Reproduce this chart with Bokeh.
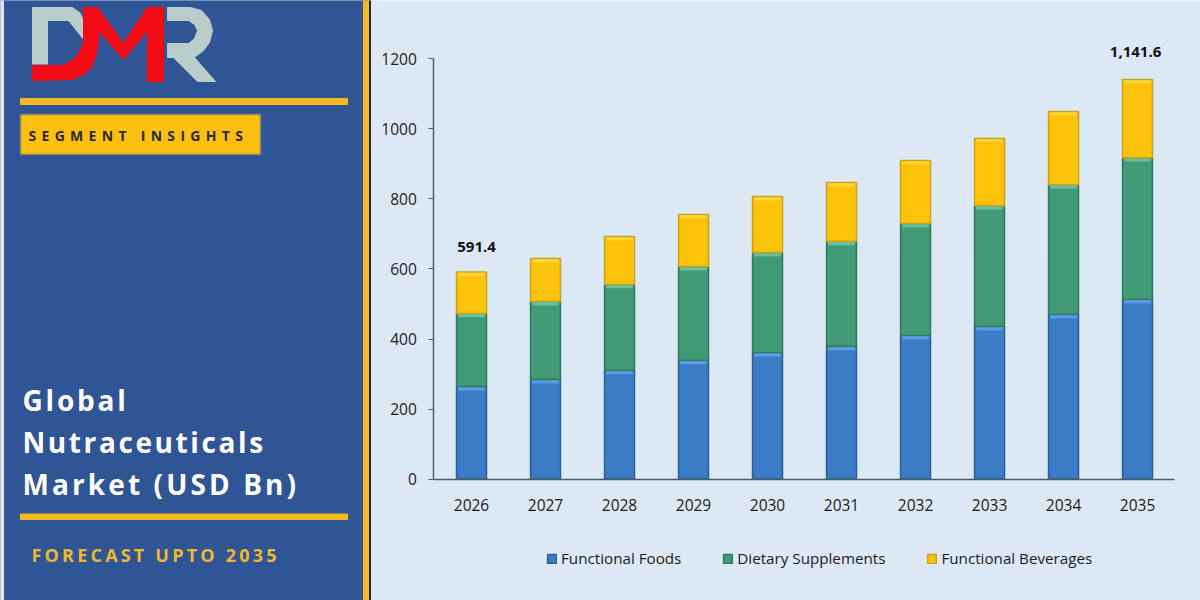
from bokeh.core.properties import value
from bokeh.document import Document
from bokeh.embed import file_html
from bokeh.models import (ColumnDataSource, CustomJS, FixedTicker, Legend, LegendItem,
                          LinearAxis, Range1d)
from bokeh.events import DocumentReady
from bokeh.plotting import figure
from bokeh.resources import INLINE

years = [2026, 2027, 2028, 2029, 2030, 2031, 2032, 2033, 2034, 2035]
functional_foods = [264, 284, 310, 339, 361, 379, 410, 436, 470, 513]
dietary_supplements = [209, 223, 246, 268, 286, 300, 320, 345, 371, 405]
functional_beverages = [118.4, 123, 137, 149, 160, 168, 180, 192, 209, 223.6]
series_names = ["Functional Foods", "Dietary Supplements", "Functional Beverages"]
series_colors = ["#3a7dc6", "#409a76", "#fdc20a"]
series_edges = ["#2c5f90", "#2f7a5c", "#c9a21a"]
series_bevels = ["#5a9fe0", "#6cc09c", "#ffd63a"]
y_ticks = [0, 200, 400, 600, 800, 1000, 1200]
label_years = [2026, 2035]
label_totals = [591.4, 1141.6]
label_texts = ["591.4", "1,141.6"]

PANEL = "#2f5597"
GOLD = "#f4b91f"
PAGE = "#dde8f5"
GREY = "#b9cdca"
RED = "#f40a14"
FONT = "Open Sans"
AXIS = "#4d5b6b"

p = figure(width=1200, height=600, x_range=Range1d(2019.635, 2035.851),
           y_range=Range1d(-347.14, 1367.14), x_axis_location=None, y_axis_location=None,
           output_backend="svg", toolbar_location=None, min_border=0,
           background_fill_color=PAGE, border_fill_color=PAGE, outline_line_color=None)
p.grid.visible = False
p.extra_x_ranges = {"px": Range1d(0, 1200)}
p.extra_y_ranges = {"py": Range1d(600, 0)}
PX = dict(x_range_name="px", y_range_name="py")

# left panel
p.quad(left=[0], right=[369], top=[0], bottom=[600], color=PANEL, **PX)
p.quad(left=[0], right=[3], top=[0], bottom=[600], color="#dfe5ee", **PX)
p.quad(left=[363], right=[369], top=[0], bottom=[600], color=GOLD, **PX)
p.quad(left=[369], right=[370], top=[0], bottom=[600], color="#1f2a3a", **PX)
p.quad(left=[20], right=[347], top=[98], bottom=[104], color=GOLD, **PX)
p.quad(left=[20], right=[347], top=[513.5], bottom=[519], color=GOLD, **PX)
p.quad(left=[20], right=[260], top=[114], bottom=[154], fill_color="#fdbf12",
       line_color="#8a8560", line_width=1.5, **PX)

# logo
p.patch([32, 72, 80, 84, 84, 68, 47, 47, 32], [7, 7, 13, 24, 40, 20, 20, 63.5, 63.5], color=GREY, **PX)
p.patch([167, 190, 201, 209, 212, 209, 203, 194, 215, 197, 173, 167, 167, 188, 194, 197, 194, 188, 167],
        [7, 7, 10, 19, 30, 42, 50, 57, 81, 81, 57, 57, 43, 43, 38, 30, 24, 20, 20], color=GREY, **PX)
p.patch([83, 97, 123, 147, 163, 163, 147, 147, 123, 98, 98, 96, 92, 85, 72, 32, 32, 62, 72, 79, 83, 83],
        [7, 7, 43, 7, 7, 81, 81, 30, 59, 30, 40, 54, 65, 73, 79, 80, 65, 65, 60, 52, 42, 7],
        color=RED, **PX)


def panel_text(x, y, txt, size, color):
    p.text(x=[x], y=[y], text=[txt], text_font=value(FONT), text_font_style="bold",
           text_font_size=value(size), text_color=color, text_baseline="middle", **PX)


panel_text(28, 135, "SEGMENT INSIGHTS", "14px", "#2b2a20")
panel_text(22, 399, "Global", "28px", "#ffffff")
panel_text(22, 441, "Nutraceuticals", "28px", "#ffffff")
panel_text(22, 483, "Market (USD Bn)", "28px", "#ffffff")
panel_text(31, 554, "FORECAST UPTO 2035", "18px", "#efba2a")

# chart
source = ColumnDataSource(dict(year=years, foods=functional_foods, supp=dietary_supplements,
                               bev=functional_beverages))
renderers = p.vbar_stack(["foods", "supp", "bev"], x="year", width=0.405, source=source,
                         fill_color=series_colors, line_color=series_edges, line_width=1.5)

cum = [0.0] * len(years)
for vals, bevel in zip([functional_foods, dietary_supplements, functional_beverages], series_bevels):
    cum = [c + v for c, v in zip(cum, vals)]
    p.vbar(x=years, top=[c - 2 for c in cum], bottom=[c - 11 for c in cum], width=0.36,
           fill_color=bevel, line_color=None)

xaxis = LinearAxis(fixed_location=0, bounds=(2025.49, 2035.5), ticker=FixedTicker(ticks=years),
                   major_tick_line_color=None, minor_tick_line_color=None, axis_line_color=AXIS,
                   axis_line_width=1.5, major_label_text_font=FONT,
                   major_label_text_font_size="15.5px", major_label_text_color="#1c1c1c",
                   major_label_standoff=14)
yaxis = LinearAxis(fixed_location=2025.49, bounds=(0, 1200),
                   ticker=FixedTicker(ticks=y_ticks, num_minor_ticks=5),
                   axis_line_color=AXIS, axis_line_width=1.5, major_tick_line_color=AXIS,
                   minor_tick_line_color=AXIS, major_tick_in=0, major_tick_out=5, minor_tick_in=0,
                   minor_tick_out=3, major_label_text_font=FONT,
                   major_label_text_font_size="15.5px", major_label_text_color="#1c1c1c",
                   major_label_standoff=12)
p.add_layout(xaxis, "below")
p.add_layout(yaxis, "left")

for yr, total, txt, dx, dy in zip(label_years, label_totals, label_texts, (5, -2), (-20, -22)):
    p.text(x=[yr], y=[total], text=[txt], text_font=value(FONT), text_font_style="bold",
           text_font_size=value("15px"), text_color="#111111", text_align="center",
           x_offset=dx, y_offset=dy)

legend = Legend(items=[LegendItem(label=n, renderers=[r]) for n, r in zip(series_names, renderers)],
                orientation="horizontal", location=(546, 32), background_fill_alpha=0,
                border_line_color=None, label_text_font=FONT, label_text_font_size="15.2px",
                label_text_color="#1c1c1c", glyph_width=11, glyph_height=11, spacing=41,
                label_standoff=4, margin=0, padding=0)
p.add_layout(legend, "center")

# the reference's panel lettering is tracked out
doc = Document()
doc.add_root(p)
doc.js_on_event(DocumentReady, CustomJS(code="""
const spacing = {"SEGMENT INSIGHTS": "5.3px", "Global": "2.8px", "Nutraceuticals": "2.6px",
                 "Market (USD Bn)": "3.1px", "FORECAST UPTO 2035": "3.2px"};
function walk(root) {
  for (const el of root.querySelectorAll("*")) {
    if (el.shadowRoot) walk(el.shadowRoot);
    if (el.tagName === "text" && spacing[el.textContent]) el.style.letterSpacing = spacing[el.textContent];
  }
}
for (const t of [0, 50, 200, 500]) setTimeout(() => walk(document), t);
"""))

open("out.html", "w").write(file_html(doc, INLINE))
